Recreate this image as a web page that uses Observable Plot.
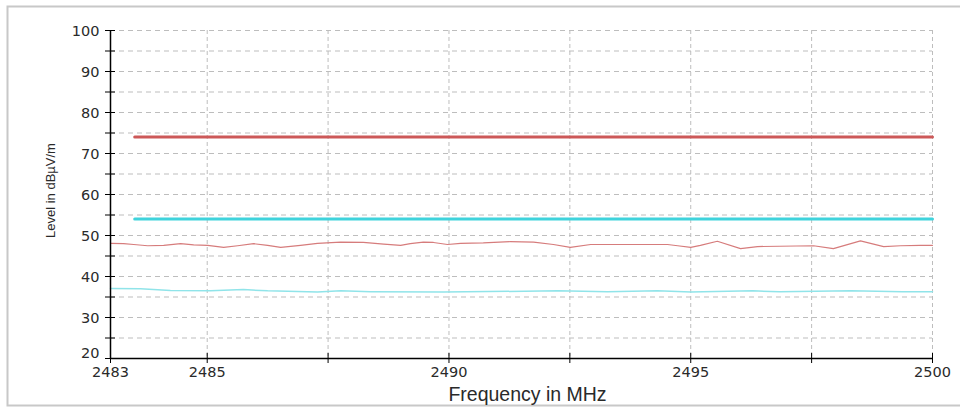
<!DOCTYPE html>
<html><head><meta charset="utf-8">
<script src="https://cdn.jsdelivr.net/npm/d3@7"></script>
<script src="https://cdn.jsdelivr.net/npm/@observablehq/plot@0.6"></script>
<style>html,body{margin:0;padding:0;background:#fff;}</style>
</head><body><div id="chart"></div>
<script>
// Peak trace (red) — frequency in MHz / level in dBµV/m
const redFreq = [2483.00,2483.27,2483.48,2483.77,2484.10,2484.45,2484.72,2485.01,2485.34,2485.63,2485.96,2486.25,2486.52,2486.93,2487.28,2487.76,2488.23,2488.65,2489.00,2489.20,2489.47,2489.68,2489.97,2490.24,2490.71,2491.27,2491.75,2492.16,2492.51,2492.93,2494.52,2494.73,2495.00,2495.20,2495.55,2496.03,2496.38,2497.54,2497.95,2498.51,2498.99,2499.34,2499.75,2500.00];
const redLevel = [48.1,48.0,47.8,47.5,47.6,48.0,47.7,47.6,47.1,47.5,48.0,47.6,47.1,47.6,48.1,48.4,48.3,47.9,47.6,48.0,48.4,48.3,47.8,48.1,48.2,48.5,48.4,47.8,47.1,47.8,47.8,47.5,47.1,47.6,48.6,46.8,47.3,47.5,46.8,48.7,47.3,47.5,47.6,47.6];
// Average trace (cyan)
const cyanFreq = [2483.00,2483.62,2484.24,2485.07,2485.75,2486.25,2487.28,2487.76,2488.38,2489.89,2492.25,2493.28,2494.31,2495.00,2496.28,2496.84,2498.31,2499.38,2500.00];
const cyanLevel = [37.1,37.0,36.6,36.5,36.8,36.5,36.2,36.5,36.3,36.2,36.5,36.3,36.5,36.2,36.5,36.3,36.5,36.3,36.3];
// Limit lines
const limitFreq = [2483.5, 2500];
const peakLimit = [74, 74];
const avgLimit = [54, 54];
// Axes
const xDomain = [2483, 2500];
const yDomain = [20, 100];
const xGrid = [2485, 2487.5, 2490, 2492.5, 2495, 2497.5, 2500];
const xTicks = [2483, 2485, 2487.5, 2490, 2492.5, 2495, 2497.5, 2500];
const xLabels = [2483, 2485, 2490, 2495, 2500];
const yGrid = [25,30,35,40,45,50,55,60,65,70,75,80,85,90,95,100];
const yTicks = [20,25,30,35,40,45,50,55,60,65,70,75,80,85,90,95,100];
const yLabels = [30,40,50,60,70,80,90,100];
const yLabelBottom = [20];
const xTitle = ["Frequency in MHz"];
const yTitle = ["Level in dBµV/m"];

const rows = (fs, vs) => fs.map((f, i) => ({f, v: vs[i]}));
const tickFont = "'DejaVu Sans', Verdana, sans-serif";

const chart = Plot.plot({
  width: 960, height: 410,
  marginLeft: 110, marginRight: 28, marginTop: 30, marginBottom: 52,
  style: {fontFamily: "'Liberation Sans', Arial, sans-serif", background: "#fff", overflow: "visible"},
  x: {domain: xDomain, label: null},
  y: {domain: yDomain, label: null},
  marks: [
    Plot.frame({insetLeft: -103, insetTop: -24, insetRight: -45, insetBottom: -47, stroke: "#c8c8c8", strokeWidth: 2}),
    Plot.ruleY(yGrid, {stroke: "#bdbdbd", strokeDasharray: "5,4"}),
    Plot.ruleX(xGrid, {stroke: "#bdbdbd", strokeDasharray: "4,3"}),
    Plot.line(rows(cyanFreq, cyanLevel), {x: "f", y: "v", stroke: "#90e4e9", strokeWidth: 1.5}),
    Plot.line(rows(redFreq, redLevel), {x: "f", y: "v", stroke: "#d67c7c", strokeWidth: 1.2}),
    Plot.line(rows(limitFreq, avgLimit), {x: "f", y: "v", stroke: "#3fd3dc", strokeWidth: 3}),
    Plot.line(rows(limitFreq, peakLimit), {x: "f", y: "v", stroke: "#cc5858", strokeWidth: 3}),
    Plot.ruleX([xDomain[0]], {stroke: "#000", strokeWidth: 1.5}),
    Plot.ruleY([yDomain[0]], {stroke: "#000", strokeWidth: 1.5}),
    Plot.axisY(yTicks, {tickSize: 10, dx: 5, tickFormat: () => "", label: null, stroke: "#000"}),
    Plot.axisX(xTicks, {tickSize: 10, dy: -5, tickFormat: () => "", label: null, stroke: "#000"}),
    Plot.axisY(yLabels, {tickSize: 0, tickPadding: 11, dy: 1, fontSize: 14.5, fontFamily: tickFont, fill: "#2a2a2a", label: null}),
    Plot.axisY(yLabelBottom, {tickSize: 0, tickPadding: 11, dy: -5, fontSize: 14.5, fontFamily: tickFont, fill: "#2a2a2a", label: null}),
    Plot.axisX(xLabels, {tickSize: 0, tickPadding: 8, fontSize: 14.5, fontFamily: tickFont, fill: "#2a2a2a", label: null, tickFormat: d => String(d)}),
    Plot.text(xTitle, {frameAnchor: "bottom", text: d => d, dy: 42, dx: 6, fontSize: 19.5, fill: "#2a2a2a"}),
    Plot.text(yTitle, {frameAnchor: "left", textAnchor: "middle", text: d => d, rotate: -90, dx: -60, dy: -4, fontSize: 13, fill: "#2a2a2a"})
  ]
});
document.getElementById("chart").append(chart);
</script></body></html>
